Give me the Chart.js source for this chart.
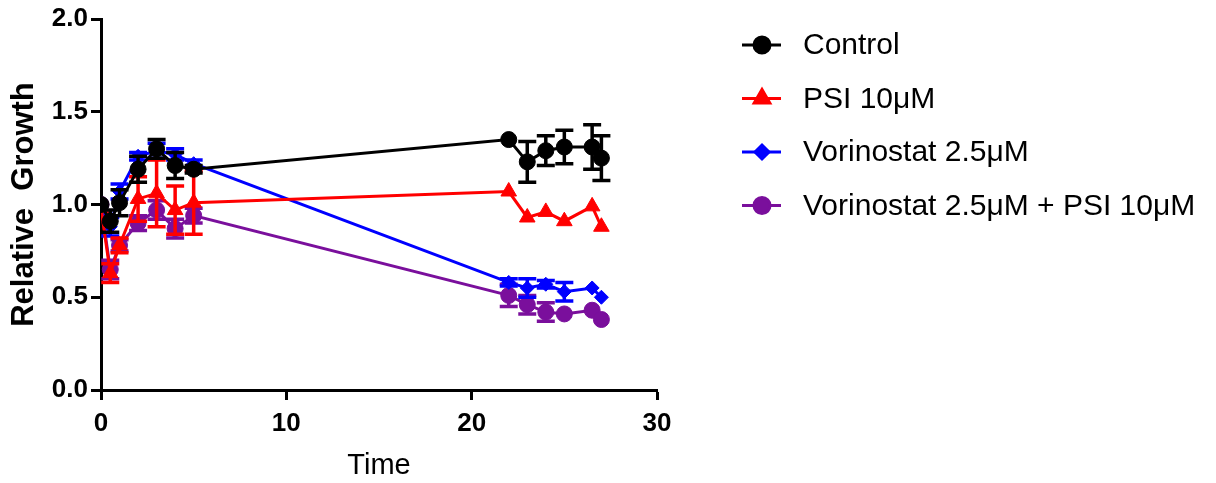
<!DOCTYPE html>
<html>
<head>
<meta charset="utf-8">
<script src="https://cdn.jsdelivr.net/npm/chart.js@4"></script>
<style>
  html, body { margin: 0; padding: 0; background: #fff; }
  #wrap { width: 1216px; height: 483px; }
</style>
</head>
<body>
<div id="wrap"><canvas id="growthChart" width="1216" height="483"></canvas></div>
<script>
// time points (x)
const times = [0, 0.5, 1, 2, 3, 4, 5, 22, 23, 24, 25, 26.5, 27];

// series values
const controlValues = [1.00, 0.91, 1.01, 1.19, 1.30, 1.21, 1.19, 1.35, 1.23, 1.29, 1.31, 1.31, 1.25];
const controlErrors = [0, 0.06, 0.07, 0.07, 0.05, 0.07, 0.02, 0, 0.11, 0.08, 0.09, 0.12, 0.12];

const psiValues = [0.98, 0.63, 0.78, 1.03, 1.06, 0.97, 1.01, 1.07, 0.93, 0.96, 0.91, 0.99, 0.88];
const psiErrors = [0, 0.05, 0.04, 0.12, 0.18, 0.13, 0.17, 0, 0, 0, 0, 0, 0];

const vorinostatValues = [1.00, 0.88, 1.07, 1.26, 1.29, 1.27, 1.22, 0.58, 0.55, 0.57, 0.53, 0.55, 0.50];
const vorinostatErrors = [0, 0.05, 0.04, 0.02, 0.04, 0.03, 0.02, 0.02, 0.05, 0.02, 0.05, 0, 0];

const comboValues = [1.00, 0.65, 0.78, 0.90, 0.97, 0.87, 0.94, 0.51, 0.46, 0.42, 0.41, 0.43, 0.38];
const comboErrors = [0, 0.05, 0.03, 0.04, 0.05, 0.05, 0.04, 0.06, 0.05, 0.05, 0, 0, 0];

const seriesLabels = ['Control', 'PSI 10\u03bcM', 'Vorinostat 2.5\u03bcM', 'Vorinostat 2.5\u03bcM + PSI 10\u03bcM'];
const xTicks = [0, 10, 20, 30];
const yTicks = [0, 0.5, 1.0, 1.5, 2.0];

const FONT = '"Liberation Sans", Arial, sans-serif';

function toPoints(values) {
    return values.map((v, i) => ({ x: times[i], y: v }));
}

function makeDataset(label, values, errors, color, style, radius) {
    return {
        label: label,
        data: toPoints(values),
        errors: errors,
        borderColor: color,
        backgroundColor: color,
        borderWidth: 3,
        pointStyle: style,
        pointRadius: radius,
        pointHoverRadius: radius,
        pointBorderWidth: 1,
        pointBackgroundColor: color,
        pointBorderColor: color,
        tension: 0,
        fill: false
    };
}

// draw the error bars of a dataset just before the dataset itself
const errorBars = {
    id: 'errorBars',
    beforeDatasetDraw(chart, args) {
        const ds = chart.data.datasets[args.index];
        if (!ds.errors) return;
        const meta = args.meta;
        const yScale = chart.scales.y;
        const ctx = chart.ctx;
        ctx.save();
        ctx.strokeStyle = ds.borderColor;
        ctx.lineWidth = 3.5;
        ctx.lineCap = 'butt';
        meta.data.forEach((pt, j) => {
            const e = ds.errors[j];
            if (!e) return;
            const v = ds.data[j].y;
            const top = yScale.getPixelForValue(v + e);
            const bot = yScale.getPixelForValue(v - e);
            ctx.beginPath();
            ctx.moveTo(pt.x, top);
            ctx.lineTo(pt.x, bot);
            ctx.moveTo(pt.x - 9, top);
            ctx.lineTo(pt.x + 9, top);
            ctx.moveTo(pt.x - 9, bot);
            ctx.lineTo(pt.x + 9, bot);
            ctx.stroke();
        });
        ctx.restore();
    }
};

// legend with line + marker samples, to the right of the plot
const sideLegend = {
    id: 'sideLegend',
    afterDraw(chart) {
        const ctx = chart.ctx;
        const rowTop = 45;
        const rowGap = 53.5;
        ctx.save();
        chart.data.datasets.forEach((ds, i) => {
            const y = rowTop + i * rowGap;
            ctx.strokeStyle = ds.borderColor;
            ctx.lineWidth = 3;
            ctx.beginPath();
            ctx.moveTo(742, y);
            ctx.lineTo(781, y);
            ctx.stroke();
            ctx.fillStyle = ds.backgroundColor;
            Chart.helpers.drawPoint(ctx, {
                pointStyle: ds.pointStyle,
                radius: ds.pointRadius,
                rotation: 0,
                borderWidth: 1
            }, 762, y);
            ctx.fillStyle = '#000';
            ctx.font = '30px ' + FONT;
            ctx.textBaseline = 'middle';
            ctx.textAlign = 'left';
            ctx.fillText(ds.label, 803, y + 1);
        });
        ctx.restore();
    }
};

const ctx = document.getElementById('growthChart');
new Chart(ctx.getContext('2d'), {
    type: 'line',
    data: {
        datasets: [
            makeDataset(seriesLabels[0], controlValues, controlErrors, '#000000', 'circle', 8),
            makeDataset(seriesLabels[1], psiValues, psiErrors, '#ff0000', 'triangle', 9),
            makeDataset(seriesLabels[2], vorinostatValues, vorinostatErrors, '#0000ff', 'rectRot', 7),
            makeDataset(seriesLabels[3], comboValues, comboErrors, '#7a0f9c', 'circle', 8)
        ]
    },
    options: {
        responsive: false,
        animation: false,
        devicePixelRatio: 1,
        layout: {
            padding: { top: 19, right: 559, left: 0, bottom: 0 }
        },
        plugins: {
            legend: { display: false },
            tooltip: { enabled: false }
        },
        scales: {
            x: {
                type: 'linear',
                min: 0,
                max: 30,
                afterBuildTicks: (scale) => { scale.ticks = xTicks.map(v => ({ value: v })); },
                afterFit: (scale) => { scale.height = 93; },
                ticks: {
                    color: '#000',
                    font: { family: FONT, size: 26, weight: 'bold' },
                    padding: 8,
                    maxRotation: 0
                },
                grid: {
                    drawOnChartArea: false,
                    drawTicks: true,
                    tickLength: 10,
                    tickWidth: 3,
                    tickColor: '#000'
                },
                border: { display: true, color: '#000', width: 3 },
                title: {
                    display: true,
                    text: 'Time',
                    color: '#000',
                    font: { family: FONT, size: 29 },
                    padding: { top: 8, bottom: 0 }
                }
            },
            y: {
                min: 0,
                max: 2,
                afterBuildTicks: (scale) => { scale.ticks = yTicks.map(v => ({ value: v })); },
                afterFit: (scale) => { scale.width = 101; },
                ticks: {
                    color: '#000',
                    font: { family: FONT, size: 26, weight: 'bold' },
                    padding: 3,
                    callback: (v) => Number(v).toFixed(1)
                },
                grid: {
                    drawOnChartArea: false,
                    drawTicks: true,
                    tickLength: 10,
                    tickWidth: 3,
                    tickColor: '#000'
                },
                border: { display: true, color: '#000', width: 3 },
                title: {
                    display: true,
                    text: 'Relative  Growth',
                    color: '#000',
                    font: { family: FONT, size: 31, weight: 'bold' },
                    padding: { top: 6, bottom: 0 }
                }
            }
        }
    },
    plugins: [errorBars, sideLegend]
});
</script>
</body>
</html>
